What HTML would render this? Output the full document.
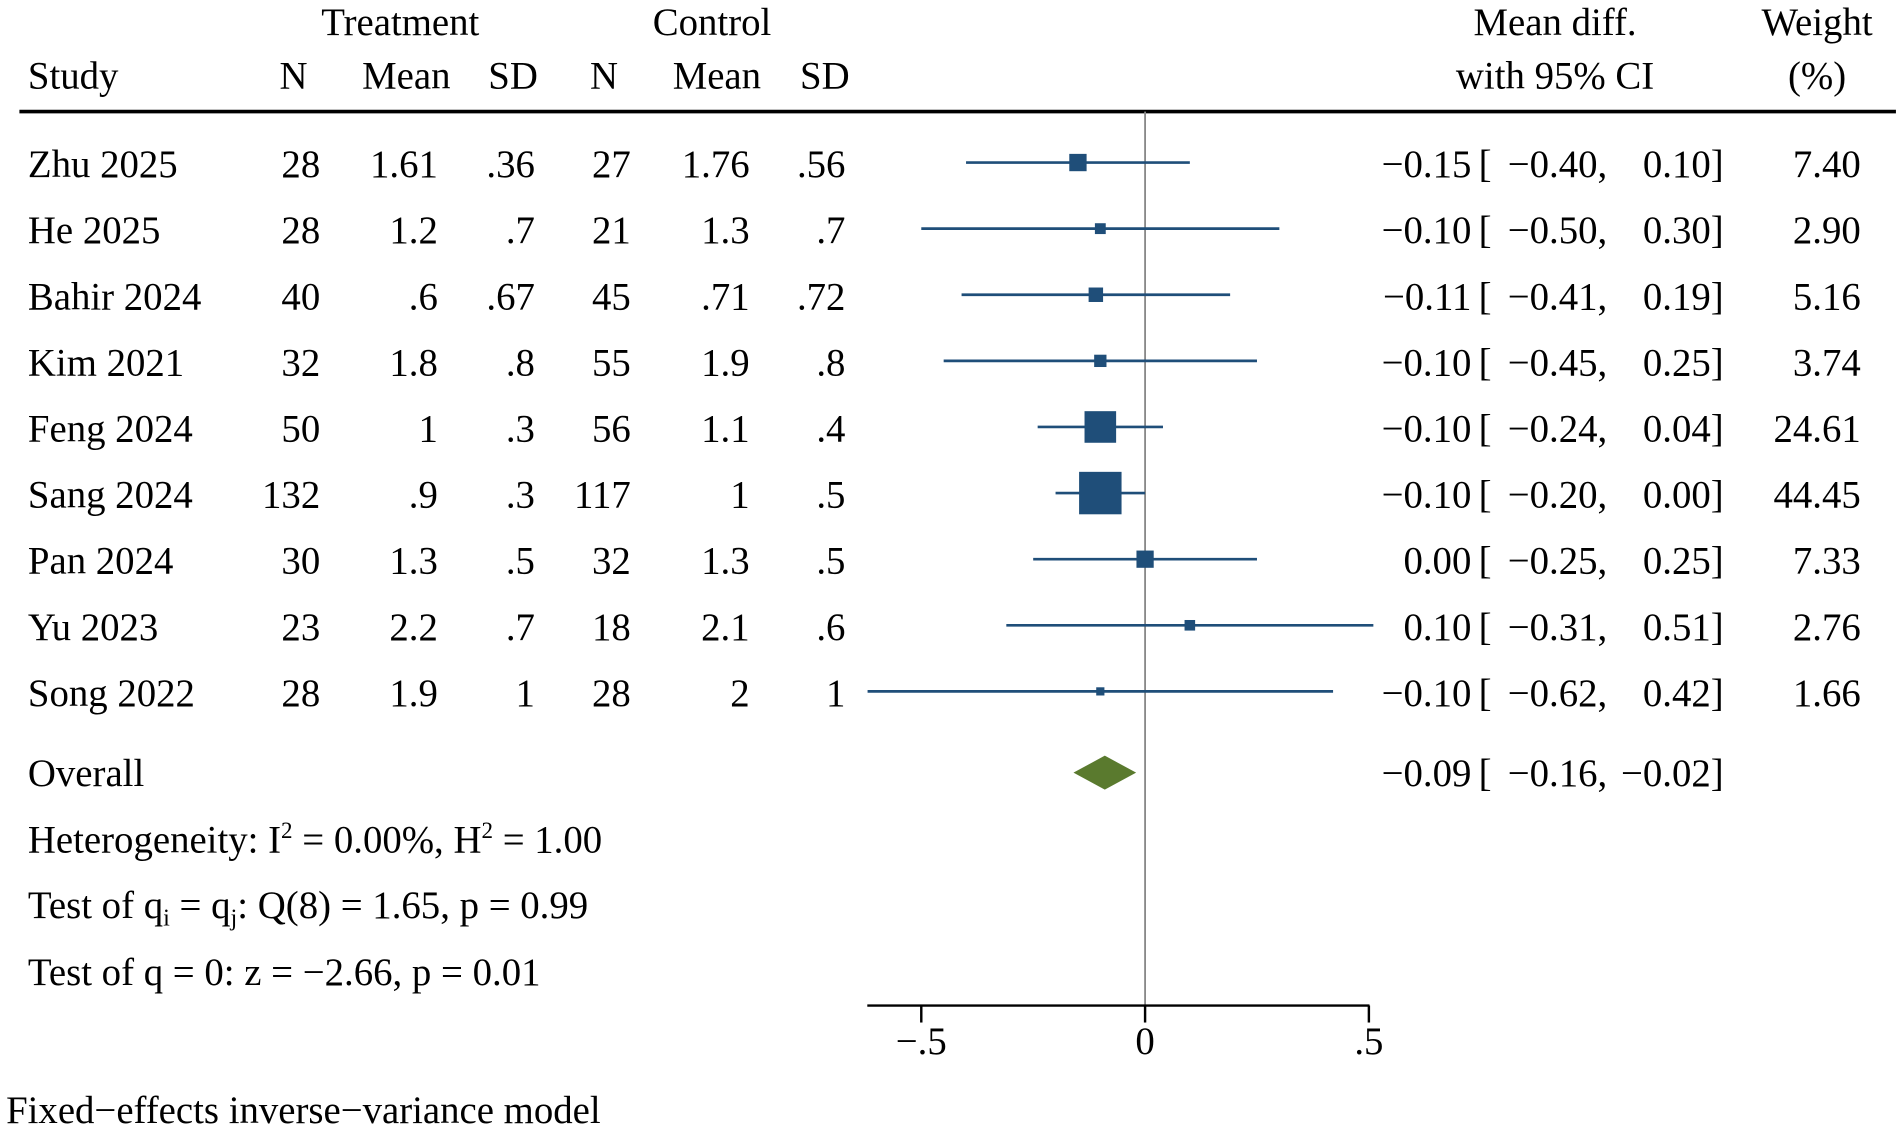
<!DOCTYPE html>
<html><head><meta charset="utf-8"><style>
html,body{margin:0;padding:0;background:#fff;}
svg{display:block;}
text{font-family:"Liberation Serif",serif;font-size:32px;fill:#000;}
</style></head><body>
<svg id="chart" width="1902" height="1130" viewBox="0 0 1568 931.6" preserveAspectRatio="none" xmlns="http://www.w3.org/2000/svg">
<g>
<text x="330" y="29" text-anchor="middle">Treatment</text>
<text x="587" y="29" text-anchor="middle">Control</text>
<text x="1282" y="29" text-anchor="middle">Mean diff.</text>
<text x="1498" y="29" text-anchor="middle">Weight</text>
<text x="23" y="73">Study</text>
<text x="242" y="73" text-anchor="middle">N</text>
<text x="335" y="73" text-anchor="middle">Mean</text>
<text x="423" y="73" text-anchor="middle">SD</text>
<text x="498" y="73" text-anchor="middle">N</text>
<text x="591" y="73" text-anchor="middle">Mean</text>
<text x="680" y="73" text-anchor="middle">SD</text>
<text x="1282" y="73" text-anchor="middle">with 95% CI</text>
<text x="1498" y="73" text-anchor="middle">(%)</text>
</g>
<line x1="16" y1="92" x2="1563" y2="92" stroke="#000" stroke-width="3"/>
<g id="rows"></g>
<g id="marks"></g>
<g>
<text x="23" y="648">Overall</text>
<text x="23" y="703">Heterogeneity: I<tspan dy="-12" font-size="19">2</tspan><tspan dy="12"> = 0.00%, H</tspan><tspan dy="-12" font-size="19">2</tspan><tspan dy="12"> = 1.00</tspan></text>
<text x="23" y="757">Test of q<tspan dy="6" font-size="20">i</tspan><tspan dy="-6"> = q</tspan><tspan dy="6" font-size="20">j</tspan><tspan dy="-6">: Q(8) = 1.65, p = 0.99</tspan></text>
<text x="23" y="812">Test of q = 0: z = −2.66, p = 0.01</text>
<text x="5" y="926">Fixed−effects inverse−variance model</text>
</g>
</svg>
<script>
const studies=["Zhu 2025","He 2025","Bahir 2024","Kim 2021","Feng 2024","Sang 2024","Pan 2024","Yu 2023","Song 2022"];
const tN=["28","28","40","32","50","132","30","23","28"];
const tMean=["1.61","1.2",".6","1.8","1",".9","1.3","2.2","1.9"];
const tSD=[".36",".7",".67",".8",".3",".3",".5",".7","1"];
const cN=["27","21","45","55","56","117","32","18","28"];
const cMean=["1.76","1.3",".71","1.9","1.1","1","1.3","2.1","2"];
const cSD=[".56",".7",".72",".8",".4",".5",".5",".6","1"];
const est=[-0.15,-0.10,-0.11,-0.10,-0.10,-0.10,0.00,0.10,-0.10];
const lo=[-0.40,-0.50,-0.41,-0.45,-0.24,-0.20,-0.25,-0.31,-0.62];
const hi=[0.10,0.30,0.19,0.25,0.04,0.00,0.25,0.51,0.42];
const weights=[7.40,2.90,5.16,3.74,24.61,44.45,7.33,2.76,1.66];
const overall=[-0.09,-0.16,-0.02];
const ticks=[-0.5,0,0.5];
const tickLabels=["−.5","0",".5"];

const NS="http://www.w3.org/2000/svg";
const xs=v=>944+v*369;
const rowY=i=>135+i*54.5;
const f2=v=>(v<0?"−":"")+Math.abs(v).toFixed(2);
function mk(tag,attrs,parent,txt){const e=document.createElementNS(NS,tag);for(const k in attrs)e.setAttribute(k,attrs[k]);if(txt!==undefined)e.textContent=txt;parent.appendChild(e);return e;}
const rows=document.getElementById('rows'),marks=document.getElementById('marks');

let ref=mk('line',{x1:xs(0),y1:92,x2:xs(0),y2:829,stroke:'#888','stroke-width':1.5},marks);



const cols=[[tN,264],[tMean,361],[tSD,441],[cN,520],[cMean,618],[cSD,697]];
studies.forEach((s,i)=>{
  const y=rowY(i)+11;
  let t=mk('text',{x:23,y:y},rows,s);
  
  
  cols.forEach(([arr,x])=>{
    let c=mk('text',{x:x,y:y,'text-anchor':'end'},rows,arr[i]);
    
    
  });
  let e=mk('text',{x:1213,y:y,'text-anchor':'end'},rows,f2(est[i]));
  
  
  let b=mk('text',{x:1219,y:y},rows,"[");
  
  
  let l=mk('text',{x:1325,y:y,'text-anchor':'end'},rows,f2(lo[i])+",");
  
  
  let h=mk('text',{x:1421,y:y,'text-anchor':'end'},rows,f2(hi[i])+"]");
  
  
  let w=mk('text',{x:1534,y:y,'text-anchor':'end'},rows,weights[i].toFixed(2));
  
  
  const cy=rowY(i)-1;
  let ln=mk('line',{x1:xs(lo[i]),y1:cy,x2:xs(hi[i]),y2:cy,stroke:'#1f4e79','stroke-width':2.2},marks);
  
  
  const side=5.25*Math.sqrt(weights[i]);
  let sq=mk('rect',{x:xs(est[i])-side/2,y:cy-side/2,width:side,height:side,fill:'#1f4e79'},marks);
  
  
});
const oy=637;
let d=mk('polygon',{points:`${xs(overall[1])},${oy} ${xs(overall[0])},${oy-14} ${xs(overall[2])},${oy} ${xs(overall[0])},${oy+14}`,fill:'#5a7a2e'},marks);


let oe=mk('text',{x:1213,y:oy+11,'text-anchor':'end'},rows,f2(overall[0]));


let ob=mk('text',{x:1219,y:oy+11},rows,"[");


let ol=mk('text',{x:1325,y:oy+11,'text-anchor':'end'},rows,f2(overall[1])+",");


let oh=mk('text',{x:1421,y:oy+11,'text-anchor':'end'},rows,f2(overall[2])+"]");


let ax=mk('line',{x1:715,y1:829,x2:1129,y2:829,stroke:'#000','stroke-width':2},marks);


ticks.forEach((v,i)=>{
  let tk=mk('line',{x1:xs(v),y1:829,x2:xs(v),y2:843,stroke:'#000','stroke-width':2},marks);
  
  
  let tl=mk('text',{x:xs(v),y:869,'text-anchor':'middle'},marks,tickLabels[i]);
  
  
});
</script>
</body></html>
